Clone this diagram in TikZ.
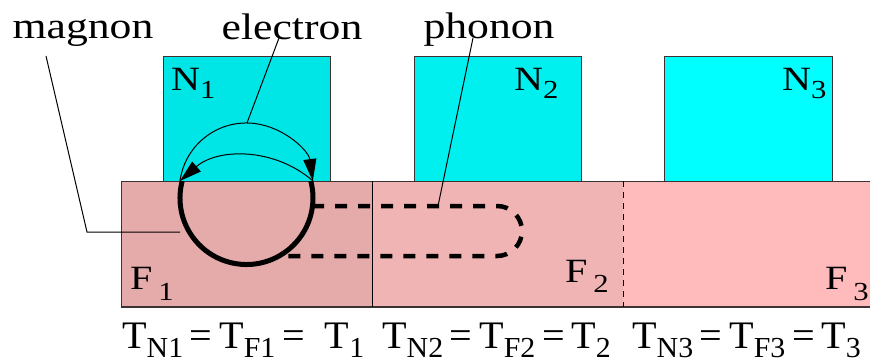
\documentclass[tikz,border=0pt]{standalone}
\usepackage{fontspec}
\setmainfont{Liberation Serif}
\usetikzlibrary{arrows.meta}
\definecolor{nA}{RGB}{0,229,229}
\definecolor{nB}{RGB}{0,240,240}
\definecolor{nC}{RGB}{0,255,255}
\definecolor{fA}{RGB}{229,170,170}
\definecolor{fB}{RGB}{240,180,180}
\definecolor{fC}{RGB}{255,187,187}
\definecolor{edge}{RGB}{60,50,50}
\newcommand\widetxt[1]{\scalebox{1.18}[1]{#1}}
\newcommand\eqwide[1]{\scalebox{1.03}[1]{#1}}
\newcommand\lowsub[2]{\raisebox{-#1}{\fontsize{26}{26}\selectfont #2}}
\newcommand\eqsub[1]{\raisebox{-9pt}{\fontsize{29}{29}\selectfont #1}}
\begin{document}
\begin{tikzpicture}[x=1pt,y=-1pt,
  lbl/.style={inner sep=0pt, anchor=base, font=\fontsize{37}{40}\selectfont},
  tag/.style={inner sep=0pt, anchor=base west, font=\fontsize{34}{36}\selectfont},
  eqn/.style={inner sep=0pt, anchor=base west, font=\fontsize{39}{42}\selectfont},
  nbox/.style={draw=edge, line width=1pt},
  thinline/.style={line width=1pt},
  elarrow/.style={line width=1pt, -{Triangle[length=22pt,width=13pt]}},
  phonpath/.style={line width=4.5pt, dash pattern=on 12pt off 11pt},
]
\useasboundingbox (0,0) rectangle (870,362);
% normal metal boxes
\path[nbox, fill=nA] (163,56) rectangle (330,181);
\path[nbox, fill=nB] (414,56) rectangle (581,181);
\path[nbox, fill=nC] (664,56) rectangle (832,181);
% ferromagnet regions
\fill[fA] (121,181) rectangle (372,307);
\fill[fB] (372,181) rectangle (623,307);
\fill[fC] (623,181) rectangle (875,307);
\draw[thinline, edge] (875,181) -- (121,181) -- (121,307);
\draw[line width=2pt, edge] (121,307) -- (875,307);
\draw[thinline] (372,181) -- (372,307);
\draw[thinline, dash pattern=on 6pt off 5pt] (623,181) -- (623,307);
% labels in boxes
\node[tag] (n1) at (171,90) {\widetxt{N\lowsub{8pt}{1}}};
\node[tag] (n2) at (514,90) {\widetxt{N\lowsub{8pt}{2}}};
\node[tag] (n3) at (782,90) {\widetxt{N\lowsub{8pt}{3}}};
\node[tag] (f1) at (130,289) {\widetxt{F\hspace{5pt}\lowsub{11pt}{1}}};
\node[tag] (f2) at (565,282) {\widetxt{F\hspace{5pt}\lowsub{10pt}{2}}};
\node[tag] (f3) at (825,289) {\widetxt{F\hspace{5pt}\lowsub{11pt}{3}}};
% top labels
\node[lbl] (magnon) at (83,38) {\widetxt{magnon}};
\node[lbl] (electron) at (292,39) {\widetxt{electron}};
\node[lbl] (phonon) at (489,38) {\widetxt{phonon}};
% magnon circle
\draw[line width=5pt] (246.5,198) ++(194.8:66.5) arc[start angle=194.8, end angle=-14.8, radius=66.5];
% electron arcs
\coordinate (eL) at (180,181);
\coordinate (eR) at (313,181);
\draw[elarrow] (eL) arc[start angle=187.7, end angle=352.3, radius=67];
\draw[elarrow] (eR) arc[start angle=311.2, end angle=228.8, radius=101];
% phonon loop
\draw[phonpath] (312,206) -- (497,206) arc[start angle=-90, end angle=90, radius=25] -- (279,256);
% pointer lines
\coordinate (mgA) at (46,56);
\coordinate (mgB) at (87,232);
\coordinate (mgC) at (180,232);
\draw[thinline] (mgA) -- (mgB) -- (mgC);
\coordinate (elA) at (279,38);
\coordinate (elB) at (247,123);
\draw[thinline] (elA) -- (elB);
\coordinate (phA) at (473,38);
\coordinate (phB) at (438,206);
\draw[thinline] (phA) -- (phB);
% temperature relations
\node[eqn] (t1) at (122,348) {\eqwide{T\eqsub{N1}\,=\,T\eqsub{F1}\,=\ \ T\eqsub{1}}};
\node[eqn] (t2) at (382,348) {\eqwide{T\eqsub{N2}\,=\,T\eqsub{F2}\,=\,T\eqsub{2}}};
\node[eqn] (t3) at (632,348) {\eqwide{T\eqsub{N3}\,=\,T\eqsub{F3}\,=\,T\eqsub{3}}};
\end{tikzpicture}
\end{document}
